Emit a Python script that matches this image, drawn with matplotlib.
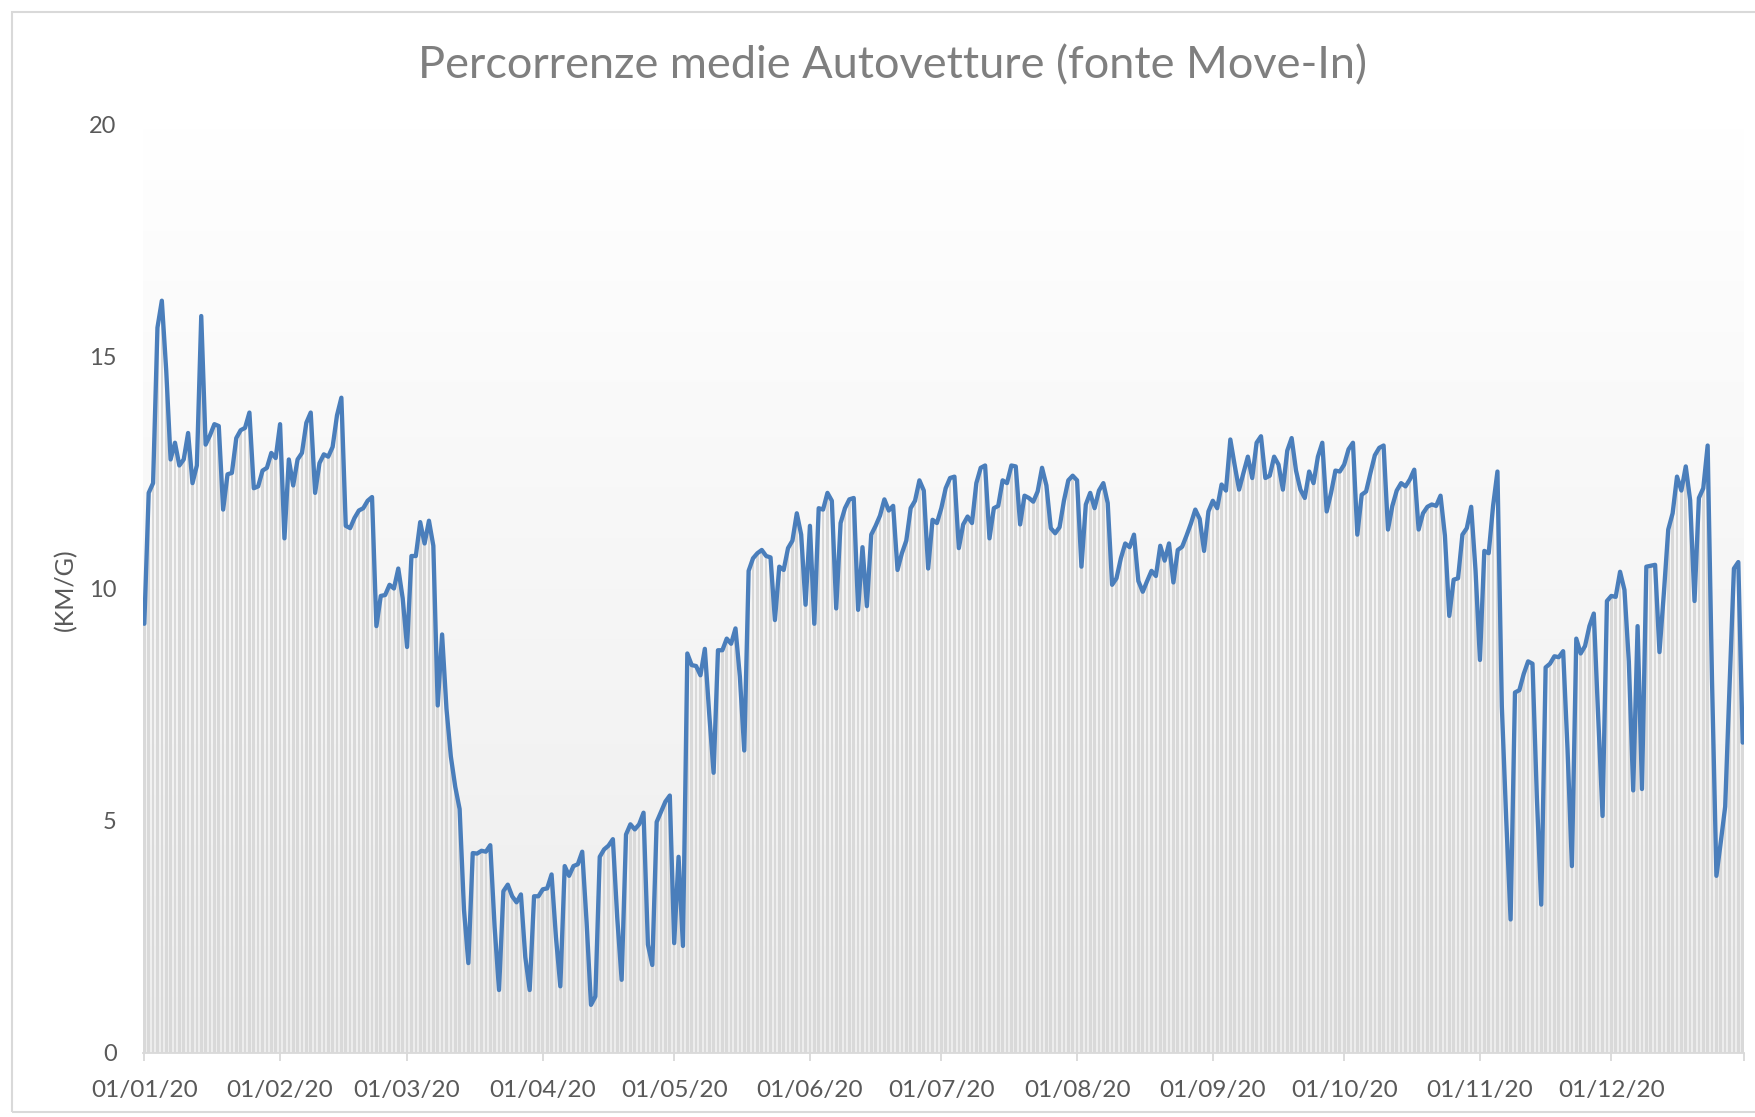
import numpy as np
import matplotlib
matplotlib.use('Agg')
import matplotlib.pyplot as plt
from matplotlib.patches import Rectangle
from matplotlib.colors import LinearSegmentedColormap

# Daily average distance per car (km/day), 01/01/2020 .. 31/12/2020
values = [
    9.24, 12.06, 12.27, 15.62, 16.2, 14.7, 12.78, 13.14, 12.65, 12.78,
    13.35, 12.27, 12.65, 15.87, 13.1, 13.3, 13.54, 13.5, 11.7, 12.46,
    12.49, 13.24, 13.41, 13.46, 13.79, 12.16, 12.2, 12.54, 12.6, 12.92,
    12.81, 13.54, 11.08, 12.78, 12.22, 12.78, 12.92, 13.57, 13.79, 12.06,
    12.7, 12.89, 12.84, 13.05, 13.73, 14.11, 11.35, 11.3, 11.52, 11.68,
    11.73, 11.89, 11.97, 9.19, 9.84, 9.86, 10.08, 10.0, 10.43, 9.79,
    8.74, 10.7, 10.7, 11.43, 10.97, 11.46, 10.92, 7.48, 9.01, 7.41,
    6.38, 5.73, 5.25, 3.08, 1.93, 4.3, 4.29, 4.35, 4.33, 4.47,
    2.7, 1.35, 3.48, 3.62, 3.37, 3.24, 3.41, 2.06, 1.35, 3.37,
    3.37, 3.52, 3.54, 3.84, 2.49, 1.43, 4.02, 3.81, 4.02, 4.06,
    4.33, 2.81, 1.03, 1.21, 4.22, 4.38, 4.46, 4.6, 2.9, 1.57,
    4.7, 4.92, 4.81, 4.92, 5.17, 2.33, 1.89, 4.97, 5.19, 5.41,
    5.54, 2.36, 4.22, 2.3, 8.6, 8.35, 8.33, 8.13, 8.7, 7.3,
    6.03, 8.67, 8.67, 8.92, 8.81, 9.14, 8.1, 6.51, 10.38, 10.65,
    10.76, 10.83, 10.7, 10.67, 9.32, 10.47, 10.4, 10.87, 11.03, 11.62,
    11.16, 9.65, 11.35, 9.24, 11.73, 11.7, 12.06, 11.89, 9.57, 11.41,
    11.73, 11.92, 11.95, 9.54, 10.89, 9.62, 11.16, 11.35, 11.57, 11.92,
    11.68, 11.78, 10.4, 10.76, 11.03, 11.73, 11.89, 12.33, 12.11, 10.43,
    11.48, 11.41, 11.73, 12.16, 12.38, 12.41, 10.87, 11.38, 11.55, 11.41,
    12.27, 12.6, 12.65, 11.08, 11.73, 11.78, 12.33, 12.27, 12.65, 12.63,
    11.38, 12.0, 11.95, 11.87, 12.09, 12.6, 12.22, 11.3, 11.19, 11.32,
    11.89, 12.33, 12.43, 12.33, 10.47, 11.81, 12.06, 11.73, 12.11, 12.27,
    11.84, 10.08, 10.22, 10.65, 10.97, 10.89, 11.16, 10.16, 9.93, 10.16,
    10.38, 10.27, 10.92, 10.6, 10.97, 10.13, 10.83, 10.9, 11.14, 11.4,
    11.7, 11.5, 10.81, 11.66, 11.89, 11.73, 12.24, 12.11, 13.21, 12.65,
    12.13, 12.49, 12.84, 12.38, 13.14, 13.28, 12.38, 12.43, 12.84, 12.67,
    12.13, 12.97, 13.24, 12.54, 12.13, 11.95, 12.52, 12.27, 12.84, 13.14,
    11.66, 12.06, 12.54, 12.52, 12.67, 13.0, 13.14, 11.16, 12.02, 12.09,
    12.49, 12.87, 13.03, 13.08, 11.27, 11.78, 12.11, 12.27, 12.2, 12.35,
    12.56, 11.27, 11.62, 11.76, 11.81, 11.78, 12.0, 11.14, 9.41, 10.19,
    10.22, 11.16, 11.3, 11.76, 10.38, 8.46, 10.81, 10.76, 11.78, 12.52,
    7.46, 5.03, 2.87, 7.76, 7.81, 8.16, 8.43, 8.38, 5.5, 3.19,
    8.3, 8.38, 8.54, 8.52, 8.65, 6.54, 4.02, 8.92, 8.6, 8.76,
    9.19, 9.46, 7.25, 5.1, 9.73, 9.84, 9.82, 10.36, 9.97, 8.43,
    5.65, 9.19, 5.68, 10.47, 10.49, 10.51, 8.63, 9.9, 11.27, 11.62,
    12.41, 12.11, 12.63, 11.9, 9.73, 11.95, 12.16, 13.08, 8.0, 3.81,
    4.54, 5.3, 7.9, 10.43, 10.57, 6.68,
]
tick_days = [0, 31, 60, 91, 121, 152, 182, 213, 244, 274, 305, 335]
tick_labels = ['01/01/20', '01/02/20', '01/03/20', '01/04/20', '01/05/20', '01/06/20',
               '01/07/20', '01/08/20', '01/09/20', '01/10/20', '01/11/20', '01/12/20']
y_ticks = [0, 5, 10, 15, 20]
title = "Percorrenze medie Autovetture (fonte Move-In)"
ylabel = "(KM/G)"

plt.rcParams['font.family'] = ['Lato', 'DejaVu Sans']

W, H = 1756, 1117
fig = plt.figure(figsize=(W / 100, H / 100), dpi=100)
fig.patch.set_facecolor('white')

y0, y20 = 1052.7, 124.3
ax = fig.add_axes([143 / W, (H - y0) / H, (1744 - 143) / W, (y0 - y20) / H])

days = np.arange(len(values))
xmin, xmax = -0.3, len(values) - 0.7

grad = np.linspace(0, 1, 256).reshape(-1, 1)
cmap = LinearSegmentedColormap.from_list('bg', ['#ededed', '#ffffff'])
ax.imshow(grad, extent=[xmin, xmax, 0, 20], origin='lower', cmap=cmap,
          aspect='auto', zorder=0, interpolation='bilinear')

ax.bar(days, values, width=0.6, color='#d9d9d9', linewidth=0, zorder=1)
ax.plot(days, values, color='#4a7ebb', lw=3.1, zorder=3,
        solid_joinstyle='round', solid_capstyle='round')

ax.set_xlim(xmin, xmax)
ax.set_ylim(0, 20)
ax.set_yticks(y_ticks)
ax.set_xticks(tick_days)
ax.set_xticklabels(tick_labels)
ax.set_xticks([xmax], minor=True)

for s in ['top', 'right', 'left']:
    ax.spines[s].set_visible(False)
ax.spines['bottom'].set_color('#d9d9d9')
ax.spines['bottom'].set_linewidth(1.3)
ax.spines['bottom'].set_zorder(4)

ax.tick_params(axis='y', length=0, pad=19, labelsize=17, labelcolor='#595959')
ax.tick_params(axis='x', which='both', length=6, width=1.3, color='#d9d9d9',
               pad=14, labelsize=17.5, labelcolor='#595959', direction='out')

fig.text(893 / W, 1 - 66 / H, title, ha='center', va='center',
         fontsize=32.5, color='#7f7f7f')
fig.text(66 / W, 1 - 590 / H, ylabel, ha='center', va='center', rotation=90,
         fontsize=18, color='#595959')

border = Rectangle((12 / W, 1 - 1112 / H), (W + 20) / W, (1112 - 12) / H,
                   transform=fig.transFigure, fill=False, edgecolor='#d9d9d9',
                   linewidth=1.5, clip_on=False)
fig.patches.append(border)

fig.savefig('out.png', dpi=100)
